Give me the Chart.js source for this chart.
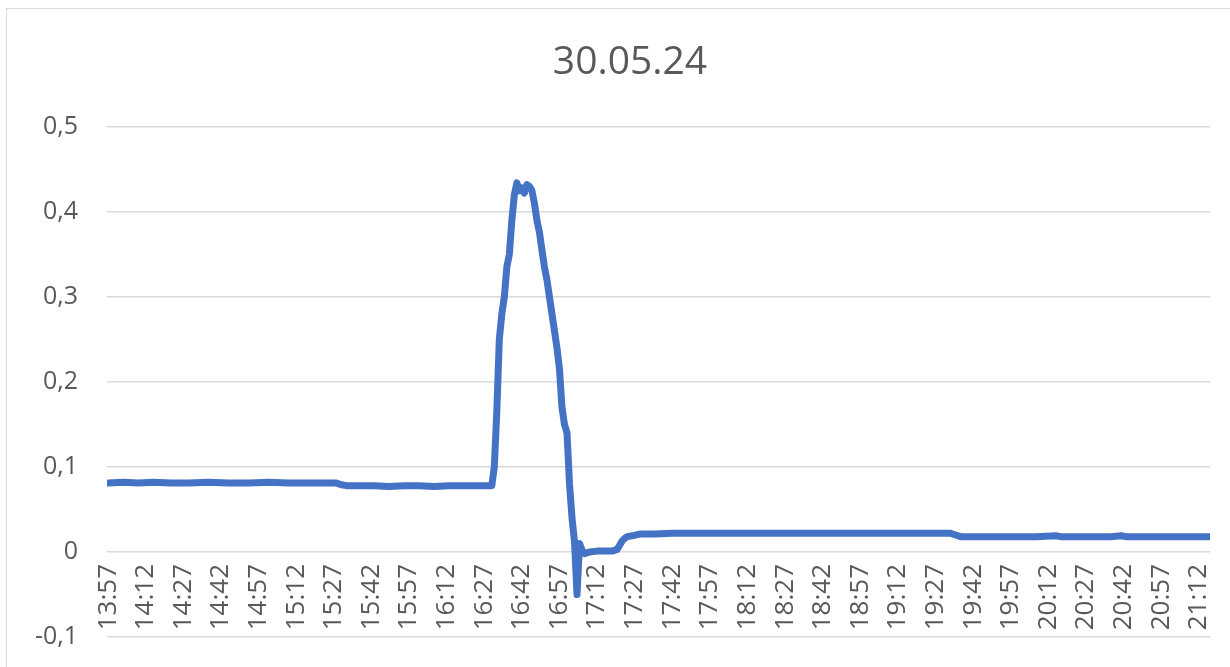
<!DOCTYPE html>
<html lang="de">
<head>
    <meta charset="UTF-8">
    <title>30.05.24</title>
    <script src="https://cdn.jsdelivr.net/npm/chart.js"></script>
    <style>
        body {
            margin: 0;
            padding: 0;
            background-color: #ffffff;
            overflow: hidden;
        }
        .frame {
            position: absolute;
            left: 6px;
            top: 8px;
            width: 1240px;
            height: 700px;
            border: 1px solid #d9d9d9;
        }
        .chart-container {
            position: relative;
            width: 1230px;
            height: 667px;
        }
    </style>
</head>
<body>
    <div class="frame"></div>
    <div class="chart-container">
        <canvas id="myChart"></canvas>
    </div>

    <script>
        // minutes after 13:57 and the measured value at that minute
        const minutes = [
            0, 6, 12, 18, 25, 32, 40, 48, 56, 64, 72, 80, 88, 91, 93, 95, 100, 106, 112, 118, 124, 130, 136, 142, 148, 153,
            154, 155, 156, 157, 158, 159, 160, 161, 162, 163, 164, 165, 166, 167, 168, 169, 170, 171, 172,
            173, 174, 175, 176, 177, 178, 179, 180, 181, 182, 183, 184, 185, 186, 187, 188, 189, 190,
            192, 195, 198, 201, 203, 204, 205, 206, 207, 209, 212, 218, 225, 240, 255, 270, 285, 300, 315, 330,
            336, 338, 340, 350, 360, 370, 378, 380, 390, 400, 404, 406, 415, 425, 432, 439
        ];
        const values = [
            0.081, 0.082, 0.081, 0.082, 0.081, 0.081, 0.082, 0.081, 0.081, 0.082, 0.081, 0.081, 0.081, 0.081, 0.079, 0.078,
            0.078, 0.078, 0.077, 0.078, 0.078, 0.077, 0.078, 0.078, 0.078, 0.078,
            0.10, 0.165, 0.25, 0.28, 0.30, 0.335, 0.35, 0.39, 0.42, 0.434, 0.425, 0.428, 0.422, 0.432, 0.43, 0.425, 0.41, 0.39, 0.376,
            0.355, 0.335, 0.32, 0.30, 0.28, 0.26, 0.24, 0.215, 0.17, 0.15, 0.14, 0.08, 0.04, 0.012, -0.05, 0.01, 0.002, -0.002,
            0.0, 0.001, 0.001, 0.001, 0.003, 0.008, 0.013, 0.016, 0.018, 0.019, 0.021, 0.021, 0.022, 0.022, 0.022, 0.022, 0.022, 0.022, 0.022, 0.022,
            0.022, 0.020, 0.018, 0.018, 0.018, 0.018, 0.019, 0.018, 0.018, 0.018, 0.019, 0.018, 0.018, 0.018, 0.018, 0.018
        ];
        const tickLabels = [
            '13:57', '14:12', '14:27', '14:42', '14:57', '15:12', '15:27', '15:42', '15:57', '16:12',
            '16:27', '16:42', '16:57', '17:12', '17:27', '17:42', '17:57', '18:12', '18:27', '18:42',
            '18:57', '19:12', '19:27', '19:42', '19:57', '20:12', '20:27', '20:42', '20:57', '21:12'
        ];
        const labelStep = 15; // one label every 15 minutes

        const textColor = '#595959';
        const gridColor = '#d9d9d9';
        const fontFamily = "'Open Sans', sans-serif";

        // nudge the title a bit right of the canvas centre, like the original
        const titleShift = {
            id: 'titleShift',
            afterLayout(chart) {
                if (chart.titleBlock) {
                    chart.titleBlock.left += 20;
                    chart.titleBlock.right += 20;
                }
            }
        };

        const ctx = document.getElementById('myChart').getContext('2d');

        const myChart = new Chart(ctx, {
            type: 'line',
            data: {
                datasets: [{
                    label: 'Wert',
                    data: minutes.map((m, i) => ({ x: m, y: values[i] })),
                    borderColor: '#4472c4',
                    borderWidth: 7,
                    borderCapStyle: 'round',
                    borderJoinStyle: 'round',
                    pointRadius: 0,
                    tension: 0,
                    fill: false
                }]
            },
            options: {
                responsive: true,
                maintainAspectRatio: false,
                animation: false,
                layout: {
                    padding: { top: 0, left: 10, right: 20, bottom: 30 }
                },
                scales: {
                    x: {
                        type: 'linear',
                        min: -0.5,
                        max: 439.5,
                        position: { y: 0 },
                        afterBuildTicks: (scale) => {
                            scale.ticks = tickLabels.map((t, i) => ({ value: i * labelStep }));
                        },
                        afterFit: (scale) => {
                            // labels sit under the 0 line, inside the plot: reserve nothing
                            scale.height = 0;
                            scale.paddingLeft = 0;
                            scale.paddingRight = 0;
                            scale.paddingTop = 0;
                            scale.paddingBottom = 0;
                        },
                        grid: { display: false, drawTicks: false },
                        border: { display: false },
                        ticks: {
                            autoSkip: false,
                            minRotation: 90,
                            maxRotation: 90,
                            padding: 12,
                            color: textColor,
                            font: { family: fontFamily, size: 26 },
                            callback: (value, index) => tickLabels[index]
                        }
                    },
                    y: {
                        min: -0.1,
                        max: 0.5,
                        afterFit: (scale) => {
                            scale.width = 97;
                            scale.paddingTop = 0;
                            scale.paddingBottom = 0;
                        },
                        grid: {
                            color: gridColor,
                            lineWidth: 1.5,
                            drawTicks: false
                        },
                        border: { display: false },
                        ticks: {
                            stepSize: 0.1,
                            padding: 29,
                            color: textColor,
                            font: { family: fontFamily, size: 25 },
                            callback: (value) => {
                                const v = Math.round(value * 10) / 10;
                                return v === 0 ? '0' : v.toFixed(1).replace('.', ',');
                            }
                        }
                    }
                },
                plugins: {
                    legend: { display: false },
                    tooltip: { enabled: false },
                    title: {
                        display: true,
                        text: '30.05.24',
                        color: textColor,
                        font: { family: fontFamily, size: 39, weight: 'normal' },
                        padding: { top: 39, bottom: 41 }
                    }
                }
            },
            plugins: [titleShift]
        });
    </script>
</body>
</html>
